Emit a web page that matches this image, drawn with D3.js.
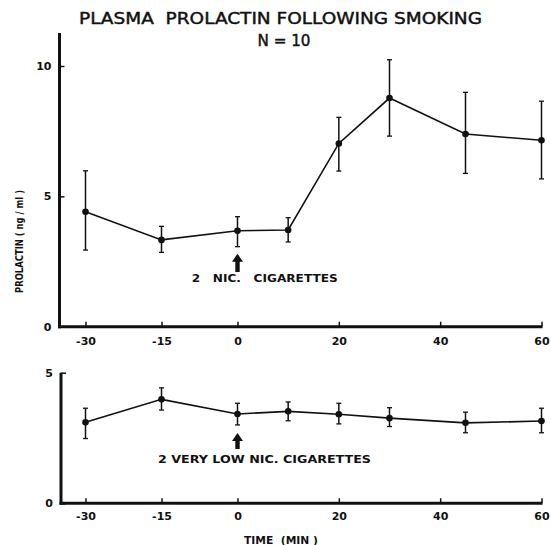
<!DOCTYPE html>
<html>
<head>
<meta charset="utf-8">
<script src="https://cdn.jsdelivr.net/npm/d3@7/dist/d3.min.js"></script>
<style>
  html, body { margin: 0; padding: 0; background: #fff; }
  svg { display: block; }
  text { font-family: "DejaVu Sans", "Liberation Sans", sans-serif; font-weight: bold; fill: #111; white-space: pre; }
</style>
</head>
<body>
<svg id="chart" width="551" height="545"></svg>
<script>
// ---- data ----
const times = [-30, -15, 0, 10, 20, 30, 45, 60];
const nicMean  = [4.41, 3.33, 3.68, 3.71, 7.03, 8.77, 7.39, 7.15];
const nicUpper = [5.98, 3.85, 4.22, 4.18, 8.03, 10.24, 8.99, 8.65];
const nicLower = [2.94, 2.85, 3.07, 3.25, 5.97, 7.31, 5.88, 5.67];
const lowMean  = [3.10, 3.98, 3.42, 3.52, 3.41, 3.26, 3.08, 3.15];
const lowUpper = [3.64, 4.42, 3.83, 3.88, 3.83, 3.66, 3.49, 3.64];
const lowLower = [2.48, 3.57, 3.00, 3.16, 3.04, 2.94, 2.70, 2.70];
const xTicks = [-30, -15, 0, 20, 40, 60];
const topYTicks = [0, 5, 10];
const bottomYTicks = [0, 5];
const titleText = "PLASMA  PROLACTIN FOLLOWING SMOKING";
const subtitleText = "N = 10";
const yLabelText = "PROLACTIN ( ng / ml )";
const xLabelText = "TIME  (MIN )";
const topNote = "2   NIC.   CIGARETTES";
const bottomNote = "2 VERY LOW NIC. CIGARETTES";

const svg = d3.select("#chart");
const ink = "#111";

const x = d3.scaleLinear().domain([-30, 60]).range([85.5, 541.5]);

function panel(cfg) {
  const { y, axisX, axisTop, mean, upper, lower, yTicks, labelPad, note, noteX, noteW, noteY, arrowTip, arrowBase } = cfg;
  const g = svg.append("g");
  const y0 = y(0);

  // y axis line
  g.append("line").attr("x1", axisX).attr("x2", axisX).attr("y1", axisTop).attr("y2", y0 + 1.5)
    .attr("stroke", ink).attr("stroke-width", 3);
  // x axis line
  g.append("line").attr("x1", axisX - 1.5).attr("x2", x(60) + 1).attr("y1", y0).attr("y2", y0)
    .attr("stroke", ink).attr("stroke-width", 3);

  // x axis ticks & labels
  const xa = d3.axisBottom(x).tickValues(xTicks).tickSizeInner(-5).tickSizeOuter(0).tickPadding(labelPad)
    .tickFormat(d => d < 0 ? "-" + Math.abs(d) : String(d));
  const gx = g.append("g").attr("transform", `translate(0,${y0})`).call(xa);
  gx.select(".domain").remove();
  gx.selectAll(".tick line").attr("stroke", ink).attr("stroke-width", 1.5);
  gx.selectAll(".tick text").attr("font-size", 11).attr("font-family", null).attr("fill", ink);

  // y axis ticks & labels
  const ya = d3.axisLeft(y).tickValues(yTicks).tickSizeInner(-5).tickSizeOuter(0).tickPadding(8)
    .tickFormat(d3.format("d"));
  const gy = g.append("g").attr("transform", `translate(${axisX},0)`).call(ya);
  gy.select(".domain").remove();
  gy.selectAll(".tick line").attr("stroke", ink).attr("stroke-width", 1.5);
  gy.selectAll(".tick text").attr("font-size", 11).attr("font-family", null).attr("fill", ink);

  // data
  const pts = times.map((t, i) => ({ t, m: mean[i], u: upper[i], l: lower[i] }));
  const line = d3.line().x(d => x(d.t)).y(d => y(d.m));
  g.append("path").datum(pts).attr("d", line).attr("fill", "none").attr("stroke", ink).attr("stroke-width", 1.6);

  const eb = g.append("g").selectAll("g").data(pts).join("g");
  eb.append("line").attr("x1", d => x(d.t)).attr("x2", d => x(d.t)).attr("y1", d => y(d.u)).attr("y2", d => y(d.l))
    .attr("stroke", ink).attr("stroke-width", 1.5);
  eb.append("line").attr("x1", d => x(d.t) - 2.5).attr("x2", d => x(d.t) + 2.5).attr("y1", d => y(d.u)).attr("y2", d => y(d.u))
    .attr("stroke", ink).attr("stroke-width", 1.3);
  eb.append("line").attr("x1", d => x(d.t) - 2.5).attr("x2", d => x(d.t) + 2.5).attr("y1", d => y(d.l)).attr("y2", d => y(d.l))
    .attr("stroke", ink).attr("stroke-width", 1.3);
  eb.append("circle").attr("cx", d => x(d.t)).attr("cy", d => y(d.m)).attr("r", 3.3).attr("fill", ink);

  // arrow at time 0
  const ax = x(0), tip = y(arrowTip), base = y(arrowBase), hh = 8, hw = 5.5, sw = 2.2;
  g.append("path")
    .attr("d", `M${ax},${tip} L${ax + hw},${tip + hh} L${ax + sw},${tip + hh} L${ax + sw},${base} L${ax - sw},${base} L${ax - sw},${tip + hh} L${ax - hw},${tip + hh} Z`)
    .attr("fill", ink);

  g.append("text").attr("x", x(0) + noteX).attr("y", y(noteY)).attr("font-size", 10.5)
    .attr("textLength", noteW).attr("lengthAdjust", "spacingAndGlyphs").text(note);
}

// top panel
const yTop = d3.scaleLinear().domain([0, 10]).range([326.7, 66]);
panel({ y: yTop, axisX: 59.5, axisTop: 33, mean: nicMean, upper: nicUpper, lower: nicLower,
  yTicks: topYTicks, labelPad: 10.5, note: topNote, noteX: -45.8, noteW: 146, noteY: 1.7,
  arrowTip: 2.8, arrowBase: 2.1 });

// bottom panel
const yBot = d3.scaleLinear().domain([0, 5]).range([503.3, 372.7]);
panel({ y: yBot, axisX: 61, axisTop: 372.7, mean: lowMean, upper: lowUpper, lower: lowLower,
  yTicks: bottomYTicks, labelPad: 9, note: bottomNote, noteX: -79.5, noteW: 213, noteY: 1.54,
  arrowTip: 2.69, arrowBase: 2.08 });

// titles
svg.append("text").attr("x", 280.5).attr("y", 24).attr("text-anchor", "middle").attr("font-size", 16)
  .style("font-weight", "normal").attr("stroke", ink).attr("stroke-width", 0.45)
  .attr("textLength", 403).attr("lengthAdjust", "spacingAndGlyphs").text(titleText);
svg.append("text").attr("x", 284).attr("y", 46).attr("text-anchor", "middle").attr("font-size", 16)
  .style("font-weight", "normal").attr("stroke", ink).attr("stroke-width", 0.45)
  .attr("textLength", 53).attr("lengthAdjust", "spacingAndGlyphs").text(subtitleText);

// y label
svg.append("text").attr("transform", "translate(23,241.5) rotate(-90)").attr("text-anchor", "middle")
  .attr("font-size", 11).attr("textLength", 103).attr("lengthAdjust", "spacingAndGlyphs").text(yLabelText);

// x label
svg.append("text").attr("x", 281).attr("y", 543.5).attr("text-anchor", "middle")
  .attr("font-size", 11).attr("textLength", 74).attr("lengthAdjust", "spacingAndGlyphs").text(xLabelText);
</script>
</body>
</html>
